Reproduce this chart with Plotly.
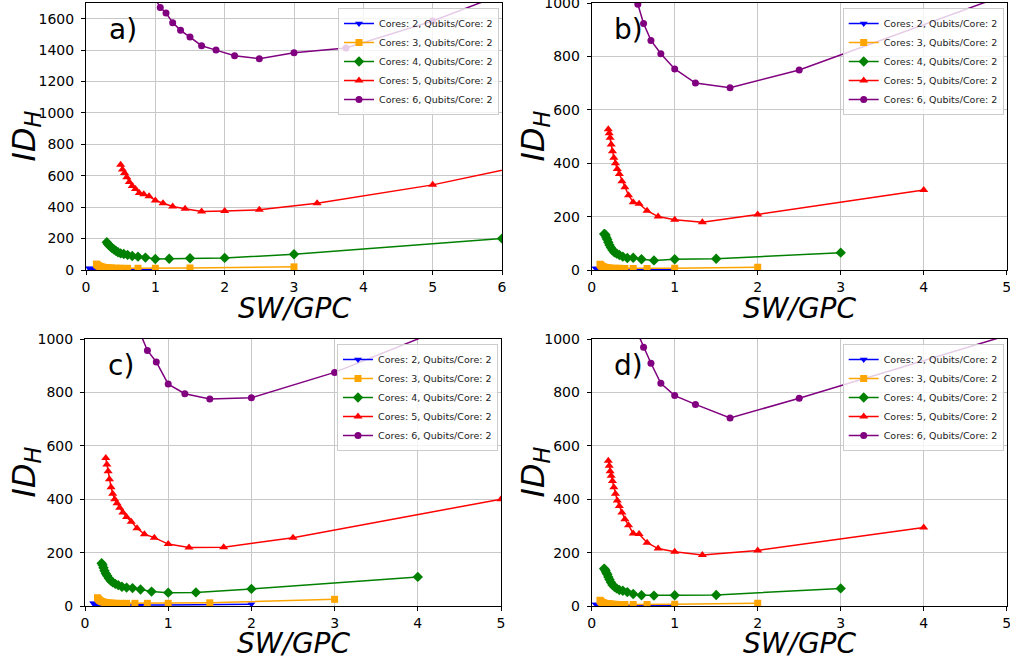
import plotly.graph_objects as go

# ---------------- x values (SW/GPC) ----------------
x_n1 = [0.05, 0.053, 0.056, 0.059, 0.062, 0.067, 0.071, 0.077, 0.083, 0.091, 0.1, 0.111, 0.125, 0.143, 0.167, 0.2, 0.25, 0.333, 0.5, 1.0]
x_n2 = [0.1, 0.105, 0.111, 0.118, 0.125, 0.133, 0.143, 0.154, 0.167, 0.182, 0.2, 0.222, 0.25, 0.286, 0.333, 0.4, 0.5, 0.667, 1.0, 2.0]
x_n3 = [0.15, 0.158, 0.167, 0.176, 0.188, 0.2, 0.214, 0.231, 0.25, 0.273, 0.3, 0.333, 0.375, 0.429, 0.5, 0.6, 0.75, 1.0, 1.5, 3.0]
x_n4 = [0.2, 0.211, 0.222, 0.235, 0.25, 0.267, 0.286, 0.308, 0.333, 0.364, 0.4, 0.444, 0.5, 0.571, 0.667, 0.8, 1.0, 1.333, 2.0, 4.0]
x_n5 = [0.25, 0.263, 0.278, 0.294, 0.313, 0.333, 0.357, 0.385, 0.417, 0.455, 0.5, 0.556, 0.625, 0.714, 0.833, 1.0, 1.25, 1.667, 2.5, 5.0]
x_n6 = [0.3, 0.316, 0.333, 0.353, 0.375, 0.4, 0.429, 0.462, 0.5, 0.545, 0.6, 0.667, 0.75, 0.857, 1.0, 1.2, 1.5, 2.0, 3.0, 6.0]
x_n10 = [0.5, 0.526, 0.556, 0.588, 0.625, 0.667, 0.714, 0.769, 0.833, 0.909, 1.0, 1.111, 1.25, 1.429, 1.667, 2.0, 2.5, 3.333, 5.0, 10.0]
x_n15 = [0.75, 0.789, 0.833, 0.882, 0.938, 1.0, 1.071, 1.154, 1.25, 1.364, 1.5, 1.667, 1.875, 2.143, 2.5, 3.0, 3.75, 5.0, 7.5, 15.0]

# ---------------- panel a) ----------------
a_c2 = [10, 9.5, 9, 8.5, 8, 7.5, 7, 6.5, 6, 5.5, 5, 4.5, 4, 3.5, 3, 3, 2.5, 2.5, 2.5, 3]
a_c3 = [38, 34, 31, 28, 25, 23, 21, 19, 17, 16, 15, 14, 13, 12, 12, 11, 11, 11, 13, 20]
a_c4 = [177, 166, 157, 149, 140, 132, 123, 113, 106, 102, 96, 89, 85, 79, 70, 72, 75, 77, 100, 200]
a_c5 = [670, 640, 618, 590, 560, 535, 515, 490, 482, 470, 443, 425, 404, 390, 372, 376, 383, 425, 542, 1010]
a_c6 = [2110, 2020, 1940, 1860, 1790, 1725, 1672, 1636, 1575, 1526, 1483, 1428, 1400, 1364, 1345, 1383, 1413, 1585, 2010, 3200]

# ---------------- panel b) ----------------
b_c2 = [6, 5.5, 5, 4.5, 4, 3.8, 3.5, 3.2, 3, 2.8, 2.5, 2.3, 2, 2, 1.8, 1.5, 1.5, 1.3, 1.2, 1.5]
b_c3 = [22, 20, 17, 15, 14, 12, 11, 10, 9, 8, 8, 7, 7, 7, 7, 6, 6, 6, 7, 10]
b_c4 = [135, 134, 131, 122, 114, 104, 94, 84, 75, 66, 62, 56, 50, 45, 46, 40, 36, 40, 42, 65]
b_c5 = [527, 512, 495, 470, 445, 420, 400, 378, 360, 332, 310, 280, 254, 248, 222, 200, 188, 179, 208, 300]
b_c6 = [2100, 1950, 1800, 1680, 1560, 1460, 1370, 1290, 1220, 1150, 1080, 995, 923, 860, 810, 753, 700, 683, 749, 1032]

# ---------------- panel c) ----------------
c_c2 = [10, 9, 8.5, 8, 7.5, 7, 6.5, 6, 5.5, 5, 4.5, 4, 4, 3.5, 3.5, 3, 3, 3, 3.5, 7]
c_c3 = [31, 27, 24, 21, 19, 17, 15, 14, 13, 12, 11, 11, 10, 10, 10, 10, 10, 10, 12, 25]
c_c4 = [160, 154, 143, 132, 122, 113, 104, 95, 89, 83, 78, 72, 69, 67, 62, 54, 50, 51, 64, 109]
c_c5 = [554, 530, 505, 475, 445, 420, 400, 385, 368, 350, 333, 316, 291, 269, 256, 232, 219, 220, 256, 400]
c_c6 = [2000, 1860, 1740, 1620, 1510, 1410, 1320, 1240, 1170, 1110, 1070, 1015, 957, 914, 831, 795, 775, 780, 875, 1250]

# ---------------- panel d) ----------------
d_c2 = [6, 5.5, 5, 4.5, 4.2, 4, 3.6, 3.3, 3, 2.8, 2.6, 2.3, 2.1, 2, 1.8, 1.6, 1.5, 1.4, 1.3, 1.5]
d_c3 = [22, 19, 17, 15, 13, 12, 11, 10, 9, 9, 8, 8, 7, 7, 6, 6, 6, 6, 7, 10]
d_c4 = [140, 137, 132, 125, 119, 109, 99, 89, 79, 72, 66, 60, 57, 52, 45, 40, 39, 40, 41, 66]
d_c5 = [544, 525, 505, 488, 468, 445, 420, 395, 375, 350, 325, 302, 272, 270, 237, 215, 203, 191, 208, 294]
d_c6 = [2050, 1900, 1760, 1630, 1510, 1400, 1300, 1220, 1150, 1110, 1080, 1020, 969, 909, 834, 788, 755, 704, 778, 1013]

series_names = ["Cores: 2, Qubits/Core: 2", "Cores: 3, Qubits/Core: 2", "Cores: 4, Qubits/Core: 2",
                "Cores: 5, Qubits/Core: 2", "Cores: 6, Qubits/Core: 2"]
colors = ["#0000ff", "#ffa500", "#008000", "#ff0000", "#800080"]
symbols = ["triangle-down", "square", "diamond", "triangle-up", "circle"]
msizes = [7, 7, 8, 8, 7]

panel_labels = ["a)", "b)", "c)", "d)"]
x_ranges = [[0, 6], [0, 5], [0, 5], [0, 5]]
y_ranges = [[0, 1700], [0, 1000], [0, 1000], [0, 1000]]
y_ticks = [list(range(0, 1601, 200)), list(range(0, 1001, 200)), list(range(0, 1001, 200)), list(range(0, 1001, 200))]
x_ticks = [list(range(0, 7)), list(range(0, 6)), list(range(0, 6)), list(range(0, 6))]

panels = [
    ([x_n1, x_n3, x_n6, x_n10, x_n15], [a_c2, a_c3, a_c4, a_c5, a_c6]),
    ([x_n1, x_n2, x_n3, x_n4, x_n5], [b_c2, b_c3, b_c4, b_c5, b_c6]),
    ([x_n2, x_n3, x_n4, x_n5, x_n6], [c_c2, c_c3, c_c4, c_c5, c_c6]),
    ([x_n1, x_n2, x_n3, x_n4, x_n5], [d_c2, d_c3, d_c4, d_c5, d_c6]),
]

W, H = 1010, 663
# pixel boxes of the four plot areas (left, right, top, bottom)
boxes = [(86, 502, 3, 270), (591.7, 1006.7, 3, 270), (85, 501, 339, 606), (591.7, 1006.7, 339, 606)]
ytitle_px = [25, 534, 25, 534]
xtitle_py = [308, 308, 643, 643]

fig = go.Figure()
FONT = "DejaVu Sans"
layout = dict(width=W, height=H, margin=dict(l=0, r=0, t=0, b=0, autoexpand=False),
              template="none",
              paper_bgcolor="white", plot_bgcolor="white", font=dict(family=FONT, color="black"),
              annotations=[])

for i, (xs, ys) in enumerate(panels):
    sfx = "" if i == 0 else str(i + 1)
    leg = "legend" if i == 0 else "legend" + str(i + 1)
    for j in range(5):
        fig.add_trace(go.Scatter(
            x=xs[j], y=ys[j], mode="lines+markers", name=series_names[j],
            line=dict(color=colors[j], width=1.5),
            marker=dict(symbol=symbols[j], size=msizes[j], color=colors[j], line=dict(width=0)),
            xaxis="x" + sfx, yaxis="y" + sfx, legend=leg, showlegend=True))
    l, r, t, b = boxes[i]
    ax = dict(domain=[l / W, r / W], range=x_ranges[i], tickvals=x_ticks[i], automargin=False,
              showgrid=True, gridcolor="#c8c8c8", gridwidth=1, zeroline=False,
              showline=True, linecolor="black", linewidth=1, mirror=True,
              ticks="outside", ticklen=4, tickcolor="black", ticklabeloverflow="allow",
              tickfont=dict(family=FONT, size=14, color="black"),
              anchor="y" + sfx)
    ay = dict(domain=[1 - b / H, 1 - t / H], range=y_ranges[i], tickvals=y_ticks[i], automargin=False,
              showgrid=True, gridcolor="#c8c8c8", gridwidth=1, zeroline=False,
              showline=True, linecolor="black", linewidth=1, mirror=True,
              ticks="outside", ticklen=4, tickcolor="black", ticklabelstandoff=4,
              ticklabeloverflow="allow",
              tickfont=dict(family=FONT, size=14, color="black"),
              anchor="x" + sfx)
    layout["xaxis" + sfx] = ax
    layout["yaxis" + sfx] = ay
    layout[leg] = dict(x=(r - 3) / W, y=1 - (t + 5) / H, xanchor="right", yanchor="top",
                       xref="paper", yref="paper",
                       bgcolor="rgba(255,255,255,0.8)", bordercolor="#cccccc", borderwidth=1,
                       font=dict(family=FONT, size=9.5, color="#222222"),
                       tracegroupgap=0, itemwidth=30)
    xr = "x" + sfx + " domain"
    yr = "y" + sfx + " domain"
    ph = b - t
    pw = r - l
    layout["annotations"].append(dict(text=panel_labels[i], xref=xr, yref=yr, x=0.05, y=0.9,
                                      xanchor="left", yanchor="middle", showarrow=False,
                                      font=dict(family=FONT, size=28, color="black")))
    layout["annotations"].append(dict(text="<i>SW/GPC</i>", xref=xr, yref=yr, x=0.5,
                                      y=(b - xtitle_py[i]) / ph, xanchor="center", yanchor="middle",
                                      showarrow=False, font=dict(family=FONT, size=28, color="black")))
    layout["annotations"].append(dict(text="<i>ID<sub>H</sub></i>", xref=xr, yref=yr,
                                      x=(ytitle_px[i] - l) / pw, y=0.5, textangle=-90,
                                      xanchor="center", yanchor="middle", showarrow=False,
                                      font=dict(family=FONT, size=32, color="black")))

fig.update_layout(**layout)
fig.write_html("out.html", config={"displayModeBar": False},
               post_script="document.body.style.margin='0px';document.body.style.overflow='hidden';")
